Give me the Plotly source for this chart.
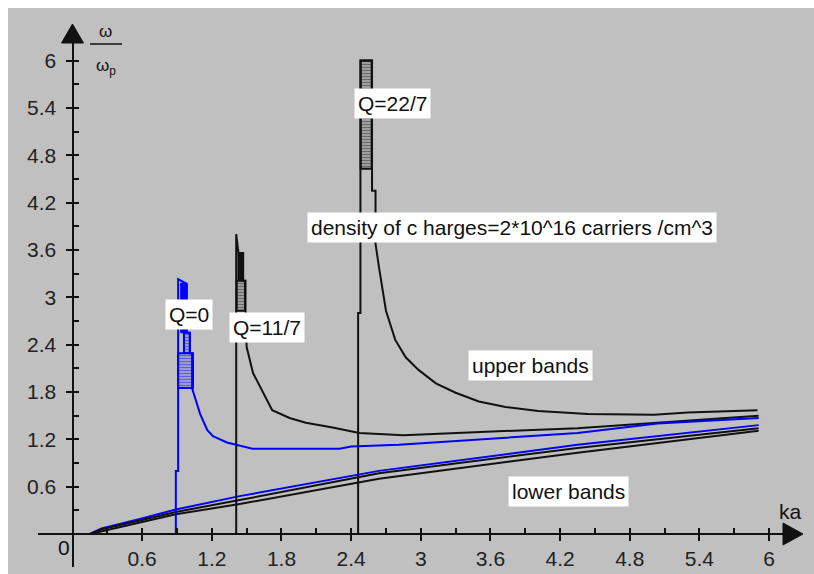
import plotly.graph_objects as go

# ---------------------------------------------------------------------------
# Dispersion curves ω/ωp versus ka for three values of Q
# ---------------------------------------------------------------------------

# Q = 0 (blue): upper band (asymptote + decaying branch) and lower band
ka_q0_upper = [0.89, 0.89, 0.91, 0.91, 0.985, 0.985, 1.01, 1.01, 1.03, 1.03,
               1.04, 1.10, 1.16, 1.21, 1.33, 1.44, 1.55, 2.30, 2.40, 2.81,
               3.50, 4.35, 5.04, 5.91]
w_q0_upper = [0.00, 0.80, 0.80, 3.23, 3.17, 2.55, 2.55, 2.29, 2.29, 1.85,
              1.80, 1.52, 1.32, 1.24, 1.16, 1.12, 1.08, 1.08, 1.11, 1.13,
              1.20, 1.28, 1.40, 1.47]
ka_q0_lower = [0.15, 0.25, 0.58, 0.89, 1.44, 2.64, 4.35, 5.91]
w_q0_lower = [0.00, 0.07, 0.19, 0.31, 0.48, 0.80, 1.13, 1.38]

# Q = 11/7 (black)
ka_q11_upper = [1.41, 1.41, 1.43, 1.47, 1.47, 1.49, 1.49, 1.50, 1.555, 1.64,
                1.72, 1.87, 2.01, 2.24, 2.47, 2.85, 3.30, 3.80, 4.35, 5.04,
                5.91]
w_q11_upper = [0.00, 3.80, 3.56, 3.56, 3.21, 3.21, 2.83, 2.37, 2.04, 1.79,
               1.57, 1.47, 1.41, 1.35, 1.28, 1.25, 1.28, 1.31, 1.34, 1.41,
               1.50]
ka_q11_lower = [0.15, 0.25, 0.58, 0.89, 1.44, 2.64, 4.35, 5.91]
w_q11_lower = [0.00, 0.06, 0.17, 0.28, 0.43, 0.77, 1.09, 1.34]

# Q = 22/7 (black)
ka_q22_upper = [2.46, 2.46, 2.48, 2.48, 2.58, 2.58, 2.61, 2.61, 2.64, 2.70,
                2.78, 2.87, 2.98, 3.13, 3.30, 3.50, 3.73, 4.01, 4.44, 5.01,
                5.30, 5.90]
w_q22_upper = [0.00, 2.80, 2.80, 6.00, 6.00, 4.35, 4.35, 3.68, 3.38, 2.83,
               2.46, 2.24, 2.08, 1.91, 1.79, 1.68, 1.61, 1.56, 1.52, 1.51,
               1.54, 1.57]
ka_q22_lower = [0.15, 0.30, 0.58, 0.89, 1.44, 2.64, 4.35, 5.91]
w_q22_lower = [0.00, 0.05, 0.14, 0.25, 0.38, 0.70, 1.03, 1.31]

# Densely sampled strips next to each asymptote (ka_left, ka_right, ω_low, ω_high)
strip_ka_left = [0.932, 0.960, 0.909, 1.425, 1.414, 2.482]
strip_ka_right = [0.984, 1.012, 1.038, 1.468, 1.486, 2.577]
strip_w_low = [2.55, 2.29, 1.85, 3.21, 2.83, 4.63]
strip_w_high = [3.18, 2.55, 2.29, 3.56, 3.21, 6.00]
strip_color = ["#0000ff", "#0000ff", "#0000ff", "#111111", "#111111", "#111111"]
strip_hatched = [False, True, True, False, True, True]

# Axis ticks
tick_step = 0.3
tick_count = 20
x_tick_labels = ["", "0.6", "", "1.2", "", "1.8", "", "2.4", "", "3",
                 "", "3.6", "", "4.2", "", "4.8", "", "5.4", "", "6"]
y_tick_labels = ["", "0.6", "", "1.2", "", "1.8", "", "2.4", "", "3",
                 "", "3.6", "", "4.2", "", "4.8", "", "5.4", "", "6"]

# Text labels placed in data coordinates
label_text = ["Q=0", "Q=11/7", "Q=22/7",
              "density of c harges=2*10^16 carriers /cm^3",
              "upper bands", "lower bands"]
label_ka = [1.003, 1.675, 2.752, 3.786, 3.945, 4.272]
label_w = [2.78, 2.62, 5.45, 3.885, 2.13, 0.545]

# ---------------------------------------------------------------------------
W, H = 814, 574
X0_PX, X_SCALE = 72.5, 116.1   # pixel column of ka=0, pixels per unit ka
Y0_PX, Y_SCALE = 534.0, 78.9   # pixel row of ω/ωp=0, pixels per unit


def fx(xp):
    return xp / W


def fy(yp):
    return 1 - yp / H


def ka_at(xp):
    return (xp - X0_PX) / X_SCALE


def w_at(yp):
    return (Y0_PX - yp) / Y_SCALE


BLUE = "#0000ff"
BLACK = "#111111"
GRAY = "#c0c0c0"
FONT = "Liberation Sans"
LW = 2.0

fig = go.Figure()

# strips drawn first so the curves sit on top
for l, r, lo, hi, c, hatched in zip(strip_ka_left, strip_ka_right, strip_w_low,
                                    strip_w_high, strip_color, strip_hatched):
    if hatched:
        marker = dict(color=GRAY, line=dict(color=c, width=2),
                      pattern=dict(shape="-", fgcolor=c, bgcolor=GRAY,
                                   size=3, solidity=0.6))
    else:
        marker = dict(color=c, line=dict(color=c, width=1))
    fig.add_trace(go.Bar(x=[(l + r) / 2], y=[hi - lo], base=[lo], width=[r - l],
                         marker=marker, showlegend=False, hoverinfo="skip"))

curves = [
    (ka_q0_lower, w_q0_lower, BLUE),
    (ka_q11_lower, w_q11_lower, BLACK),
    (ka_q22_lower, w_q22_lower, BLACK),
    (ka_q11_upper, w_q11_upper, BLACK),
    (ka_q22_upper, w_q22_upper, BLACK),
    (ka_q0_upper, w_q0_upper, BLUE),
]
for xs, ys, c in curves:
    fig.add_trace(go.Scatter(x=xs, y=ys, mode="lines",
                             line=dict(color=c, width=LW),
                             showlegend=False, hoverinfo="skip"))

tick_vals = [round(tick_step * (i + 1), 1) for i in range(tick_count)]

axis_common = dict(
    showline=True, linecolor=BLACK, linewidth=2,
    showgrid=False, zeroline=False,
    ticks="outside", ticklen=6, tickwidth=2, tickcolor=BLACK,
    tickmode="array", tickvals=tick_vals,
    tickfont=dict(family=FONT, size=21, color="#222222"),
    minor=dict(ticks="inside", ticklen=5, tickwidth=2, tickcolor=BLACK,
               tickmode="array", tickvals=tick_vals),
    anchor="free", fixedrange=True,
)

fig.update_layout(
    width=W, height=H,
    margin=dict(l=0, r=0, t=0, b=0),
    paper_bgcolor=GRAY, plot_bgcolor="rgba(0,0,0,0)",
    barmode="overlay",
    xaxis=dict(axis_common,
               domain=[fx(38), fx(785)],
               range=[ka_at(38), ka_at(785)],
               position=fy(Y0_PX),
               ticktext=x_tick_labels,
               ticklabelstandoff=0),
    yaxis=dict(axis_common,
               domain=[fy(567), fy(42)],
               range=[w_at(567), w_at(42)],
               position=fx(X0_PX),
               ticktext=y_tick_labels,
               ticklabelstandoff=5),
)

shapes = [
    # white frame along the left and top edges
    dict(type="rect", xref="paper", yref="paper", x0=0, x1=fx(8), y0=0, y1=1,
         fillcolor="white", line=dict(width=0), layer="below"),
    dict(type="rect", xref="paper", yref="paper", x0=0, x1=1, y0=fy(8), y1=1,
         fillcolor="white", line=dict(width=0), layer="below"),
    # arrow heads of both axes
    dict(type="path", xref="paper", yref="paper",
         path=f"M {fx(783)},{fy(523)} L {fx(803)},{fy(Y0_PX)} L {fx(783)},{fy(545)} Z",
         fillcolor=BLACK, line=dict(color=BLACK, width=1)),
    dict(type="path", xref="paper", yref="paper",
         path=f"M {fx(61.5)},{fy(43)} L {fx(X0_PX)},{fy(24)} L {fx(83.5)},{fy(43)} Z",
         fillcolor=BLACK, line=dict(color=BLACK, width=1)),
    # fraction bar of the vertical axis title
    dict(type="line", xref="paper", yref="paper",
         x0=fx(90), x1=fx(122), y0=fy(44), y1=fy(44),
         line=dict(color=BLACK, width=1.5)),
]
fig.update_layout(shapes=shapes)

annotations = []
for t, xa, ya in zip(label_text, label_ka, label_w):
    annotations.append(dict(x=xa, y=ya, xref="x", yref="y", text=t,
                            xanchor="center", yanchor="middle",
                            showarrow=False, bgcolor="white", borderpad=3,
                            font=dict(family=FONT, size=21, color=BLACK)))

corner_labels = [("ω", 105, 31, 17), ("ω<sub>p</sub>", 106, 67, 17),
                 ("ka", 790, 511, 21), ("0", 63.5, 547, 21)]
for t, xp, yp, size in corner_labels:
    annotations.append(dict(x=fx(xp), y=fy(yp), xref="paper", yref="paper",
                            text=t, xanchor="center", yanchor="middle",
                            showarrow=False,
                            font=dict(family=FONT, size=size, color=BLACK)))
fig.update_layout(annotations=annotations)

fig.write_html("out.html")
